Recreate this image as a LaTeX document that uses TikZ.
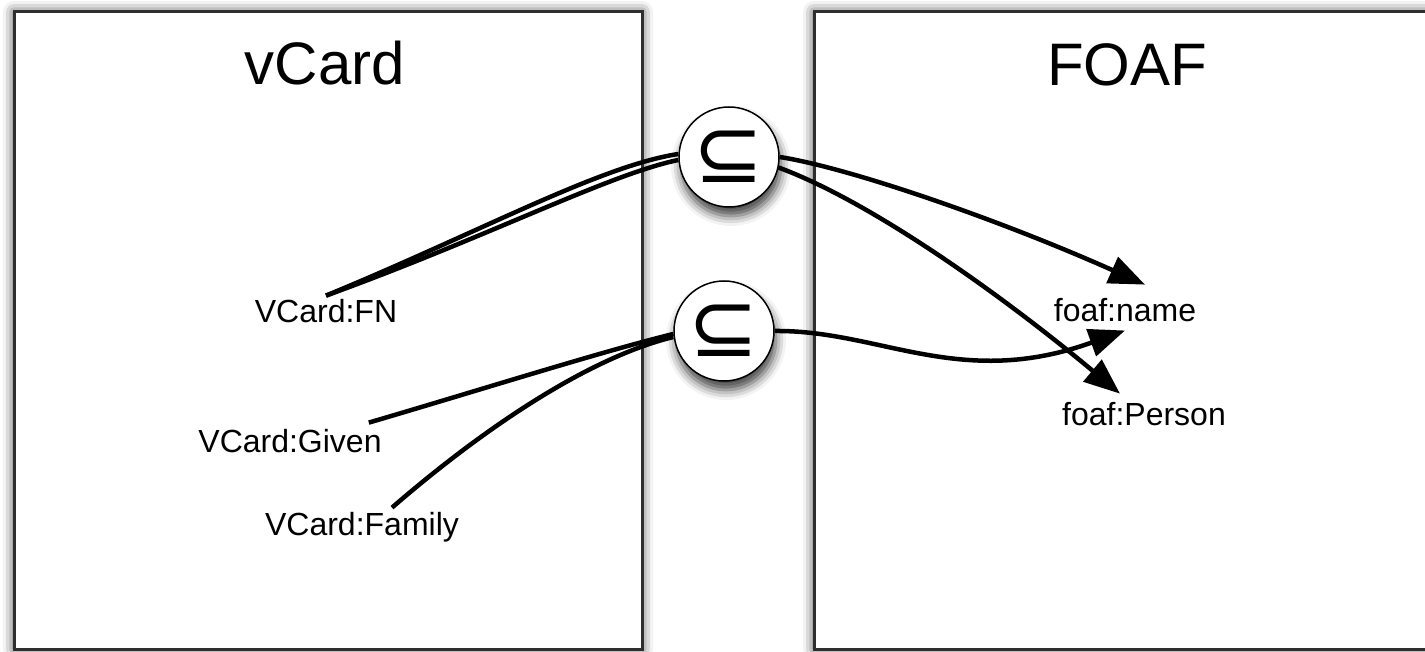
\documentclass[tikz,border=0pt]{standalone}
\usepackage{fontspec}
\setmainfont{Liberation Sans}
\newfontfamily\symfont{DejaVu Sans}
\usetikzlibrary{arrows.meta,shadows.blur}
\definecolor{ourframe}{HTML}{2E2E2E}

\begin{document}
\begin{tikzpicture}[x=1pt,y=-1pt]

  \tikzstyle{vocab}=[draw=ourframe, line width=3pt, fill=white,
                     blur shadow={shadow xshift=0pt, shadow yshift=0pt,
                                  shadow blur radius=11pt, shadow opacity=80}]
  \tikzstyle{title}=[anchor=base, inner sep=0pt, font=\fontsize{60}{70}\selectfont]
  \tikzstyle{term}=[anchor=base, inner sep=0pt, font=\fontsize{32}{38}\selectfont]
  \tikzstyle{subset}=[draw, circle, line width=1.5pt, fill=white,
                      minimum size=100pt, inner sep=0pt,
                      font=\symfont\fontsize{84}{90}\selectfont,
                      blur shadow={shadow xshift=2pt, shadow yshift=-9pt,
                                   shadow blur radius=10pt, shadow opacity=75}]
  \tikzstyle{link}=[line width=4.5pt]
  \tikzstyle{linkarrow}=[line width=4.5pt, -{Triangle[length=36pt,width=28pt]}]

  \useasboundingbox (0,0) rectangle (1425,652);
  \clip (0,0) rectangle (1425,652);

  \path
  (328, 330.5) node[vocab, minimum width=628pt, minimum height=637pt](vcard){}
  (1129,330.5) node[vocab, minimum width=630pt, minimum height=637pt](foaf){};

  \path
  (325, 85) node[title](vcardtitle){vCard}
  (1127,86) node[title](foaftitle){FOAF};

  \path
  (326, 323) node[term](fn){VCard:FN}
  (290, 452) node[term](given){VCard:Given}
  (362, 535) node[term](family){VCard:Family};

  \path
  (1125,322) node[term](name){foaf:name}
  (1144,425) node[term](person){foaf:Person};

  \path
  (729, 157) node[subset](subx){⊆}
  (724, 331) node[subset](suby){⊆};

  \draw[link] ([yshift=4pt]fn.north) .. controls (480,232) and (600,166) .. ([yshift=3pt]subx.west);
  \draw[link] ([yshift=4pt]fn.north) .. controls (490,236) and (610,174) .. ([yshift=-3pt]subx.west);
  \draw[link] ([xshift=-13pt,yshift=6pt]given.north east) .. controls (480,390) and (600,352) .. ([yshift=-3pt]suby.west);
  \draw[link] ([xshift=30pt,yshift=4pt]family.north) .. controls (470,440) and (580,360) .. ([yshift=-6pt]suby.west);

  \draw[linkarrow] (subx.east) .. controls (850,168) and (1000,220) .. ([xshift=20pt,yshift=14pt]name.north);
  \draw[linkarrow] (subx.-12) .. controls (880,205) and (1020,310) .. ([xshift=-24pt,yshift=8pt]person.north);
  \draw[linkarrow] (suby.east) .. controls (880,330) and (960,390) .. ([yshift=-8pt]name.south);

\end{tikzpicture}
\end{document}
